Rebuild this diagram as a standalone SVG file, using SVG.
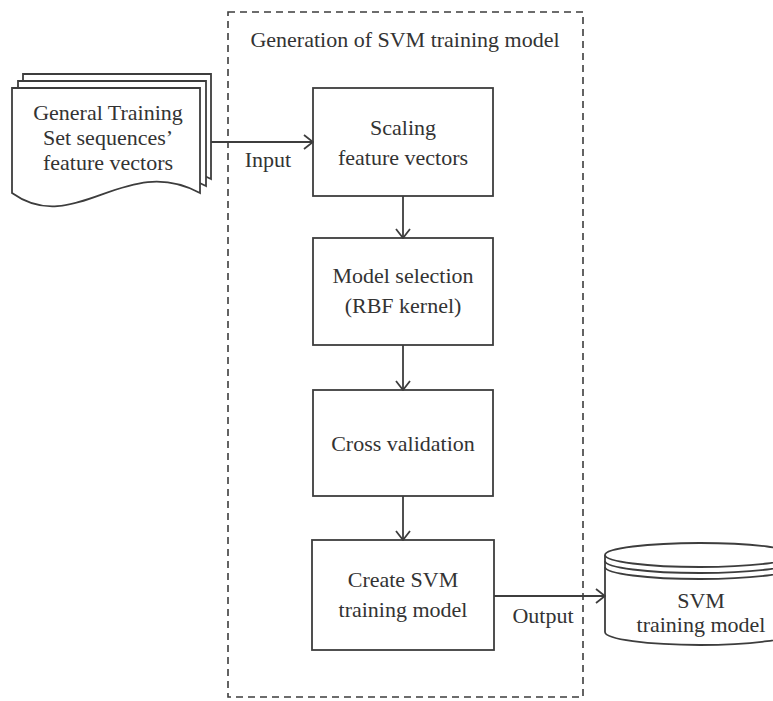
<svg xmlns="http://www.w3.org/2000/svg" width="773" height="701" viewBox="0 0 773 701">
<defs>
<style>
.ln{stroke:#3d3d3d;stroke-width:1.8;fill:none}
.sh{stroke:#3d3d3d;stroke-width:1.8;fill:#fff}
.t{font-family:"Liberation Serif","Times New Roman",serif;font-size:22px;fill:#333;text-anchor:middle}
</style>
<marker id="ah" markerUnits="userSpaceOnUse" markerWidth="12" markerHeight="16" refX="10" refY="7" orient="auto" viewBox="-1 -1 12 16">
<path d="M1,0 L10,7 L1,14" fill="none" stroke="#3d3d3d" stroke-width="1.8"/>
</marker>
<path id="doc" d="M12,88 L200,88 L200,193 C125,152 75,238 12,193 Z"/>
</defs>
<rect width="773" height="701" fill="#fff"/>
<g id="container">
<rect x="228" y="12" width="355" height="685" fill="none" stroke="#3d3d3d" stroke-width="1.6" stroke-dasharray="7,5"/>
<text class="t" x="405" y="47">Generation of SVM training model</text>
</g>
<g id="training-set">
<use href="#doc" class="sh" transform="translate(11,-14)"/>
<use href="#doc" class="sh" transform="translate(6,-7)"/>
<use href="#doc" class="sh"/>
<text class="t" x="108" y="120">General Training</text>
<text class="t" x="108" y="145">Set sequences’</text>
<text class="t" x="108" y="170">feature vectors</text>
</g>
<g id="scaling">
<rect class="sh" x="313" y="88" width="180" height="108"/>
<text class="t" x="403" y="135">Scaling</text>
<text class="t" x="403" y="165">feature vectors</text>
</g>
<g id="model-selection">
<rect class="sh" x="313" y="238" width="180" height="107"/>
<text class="t" x="403" y="283">Model selection</text>
<text class="t" x="403" y="313">(RBF kernel)</text>
</g>
<g id="cross-validation">
<rect class="sh" x="313" y="390" width="180" height="106"/>
<text class="t" x="403" y="451">Cross validation</text>
</g>
<g id="create-model">
<rect class="sh" x="312" y="540" width="182" height="110"/>
<text class="t" x="403" y="587">Create SVM</text>
<text class="t" x="403" y="617">training model</text>
</g>
<g id="svm-model">
<path class="sh" d="M605,555 V632 A95,13 0 0 0 795,632 V555"/>
<ellipse class="sh" cx="700" cy="555" rx="95" ry="12"/>
<path class="ln" d="M605,561 A95,12 0 0 0 795,561"/>
<path class="ln" d="M605,567 A95,12 0 0 0 795,567"/>
<text class="t" x="701" y="608">SVM</text>
<text class="t" x="701" y="632">training model</text>
</g>
<g id="connectors">
<line class="ln" x1="211" y1="142" x2="313" y2="142" marker-end="url(#ah)"/>
<line class="ln" x1="403" y1="196" x2="403" y2="238" marker-end="url(#ah)"/>
<line class="ln" x1="403" y1="345" x2="403" y2="390" marker-end="url(#ah)"/>
<line class="ln" x1="403" y1="496" x2="403" y2="540" marker-end="url(#ah)"/>
<line class="ln" x1="494" y1="596" x2="605" y2="596" marker-end="url(#ah)"/>
<text class="t" x="268" y="167">Input</text>
<text class="t" x="543" y="623">Output</text>
</g>
</svg>
